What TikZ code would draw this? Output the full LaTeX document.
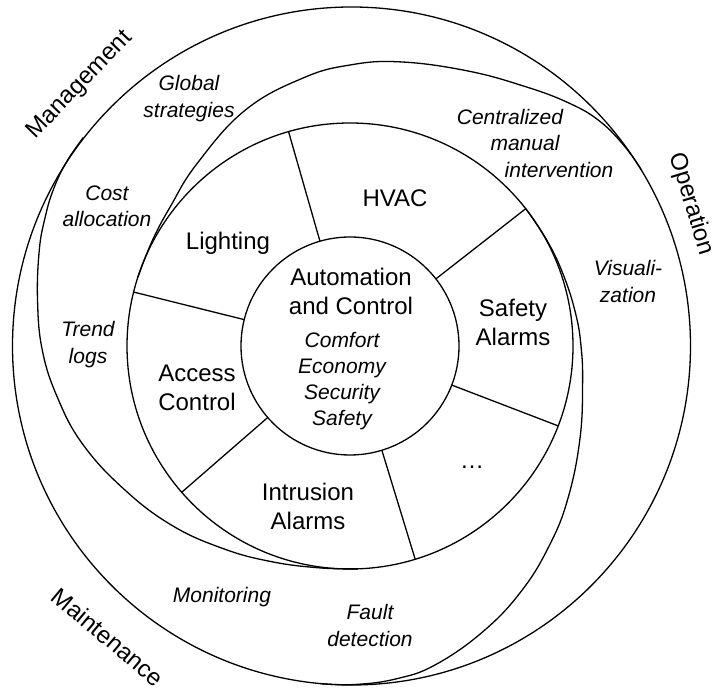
\documentclass[tikz,border=0pt]{standalone}
\usepackage{fontspec}
\setmainfont{Liberation Sans}
\begin{document}
\begin{tikzpicture}[x=1pt,y=1pt,line width=1.3pt,
  rim/.style={circle,draw,inner sep=0pt,outer sep=0pt,line width=1.3pt},
  seg/.style={font=\fontsize{24}{29}\selectfont,align=center,inner sep=0pt},
  svc/.style={font=\itshape\fontsize{21}{26.5}\selectfont,align=center,inner sep=0pt},
  dom/.style={font=\fontsize{24}{29}\selectfont,inner sep=0pt},
  spiral/.style={line width=1.3pt,smooth,tension=0.7}]
\useasboundingbox (0,0) rectangle (713,688);
\fill[white] (0,0) rectangle (713,688);

% outer boundary, device ring and core
\node[rim,minimum size=678pt] (outer) at (351.5,342) {};
\node[rim,minimum size=446pt] (ring) at (350,342) {};
\node[rim,minimum size=218pt] (core) at (350,342) {};

% boundaries between the three domains, winding from the ring out to the rim
\begin{scope}[shift={(350,342)}]
  % Management / Operation
  \draw[spiral] plot coordinates {(162:223) (152:224) (142:227.5) (130:238)
    (114:258) (100:272) (90:281) (80:288.5) (67:299) (56:313) (48:327)
    (42:336) (36:339.5) (31:340.5)};
  % Operation / Maintenance
  \draw[spiral] plot coordinates {(38:223) (28:223.5) (18:225) (8:228)
    (0:231) (-9:235.5) (-22:248) (-35:266) (-45:282) (-55:299) (-65:315)
    (-75:330) (-82:336) (-89:338.5) (-95:339)};
  % Maintenance / Management
  \draw[spiral] plot coordinates {(272:223) (262:224) (250:229.5) (238:239)
    (225:253) (212:268) (200:285) (190:297) (181:307.5) (172:315.5)
    (163:325) (157:331) (152:335.5) (147:338) (142:338.5)};
\end{scope}

% sector dividers of the device ring
\draw (core.106.5) -- (ring.106.5);
\draw (core.38) -- (ring.38);
\draw (core.-21) -- (ring.-21);
\draw (core.-73) -- (ring.-73);
\draw (core.221.5) -- (ring.221.5);
\draw (core.166) -- (ring.166);

% core
\node[seg] (ac) at (351,396.5) {Automation\\and Control};
\node[svc,font=\itshape\fontsize{21}{26}\selectfont] (goals) at (342,307) {Comfort\\Economy\\Security\\Safety};

% sectors
\node[seg] (hvac) at (395,490) {HVAC};
\node[seg] (light) at (228,445) {Lighting};
\node[seg] (safety) at (513,365.5) {Safety\\Alarms};
\node[seg] (access) at (197,300.5) {Access\\Control};
\node[seg] (intrusion) at (308,182) {Intrusion\\Alarms};
\node[seg] (more) at (472,221) {\dots};

% services
\node[svc] (global) at (189,589.5) {Global\\strategies};
\node[svc] (cost) at (107,481.5) {Cost\\allocation};
\node[svc] (trend) at (88,343.5) {Trend\\logs};
\node[svc] (central) at (510,571) {Centralized};
\node[svc] (manual) at (525,545) {manual};
\node[svc] (interv) at (559,518) {intervention};
\node[svc] (visual) at (628,406.5) {Visuali-\\zation};
\node[svc] (monitor) at (222,91) {Monitoring};
\node[svc] (fault) at (370,62.5) {Fault\\detection};

% domains
\node[dom,rotate=46] (mgmt) at (80,603) {Management};
\node[dom,rotate=-73] (oper) at (691,484) {Operation};
\node[dom,rotate=-40] (maint) at (108,51) {Maintenance};
\end{tikzpicture}
\end{document}
